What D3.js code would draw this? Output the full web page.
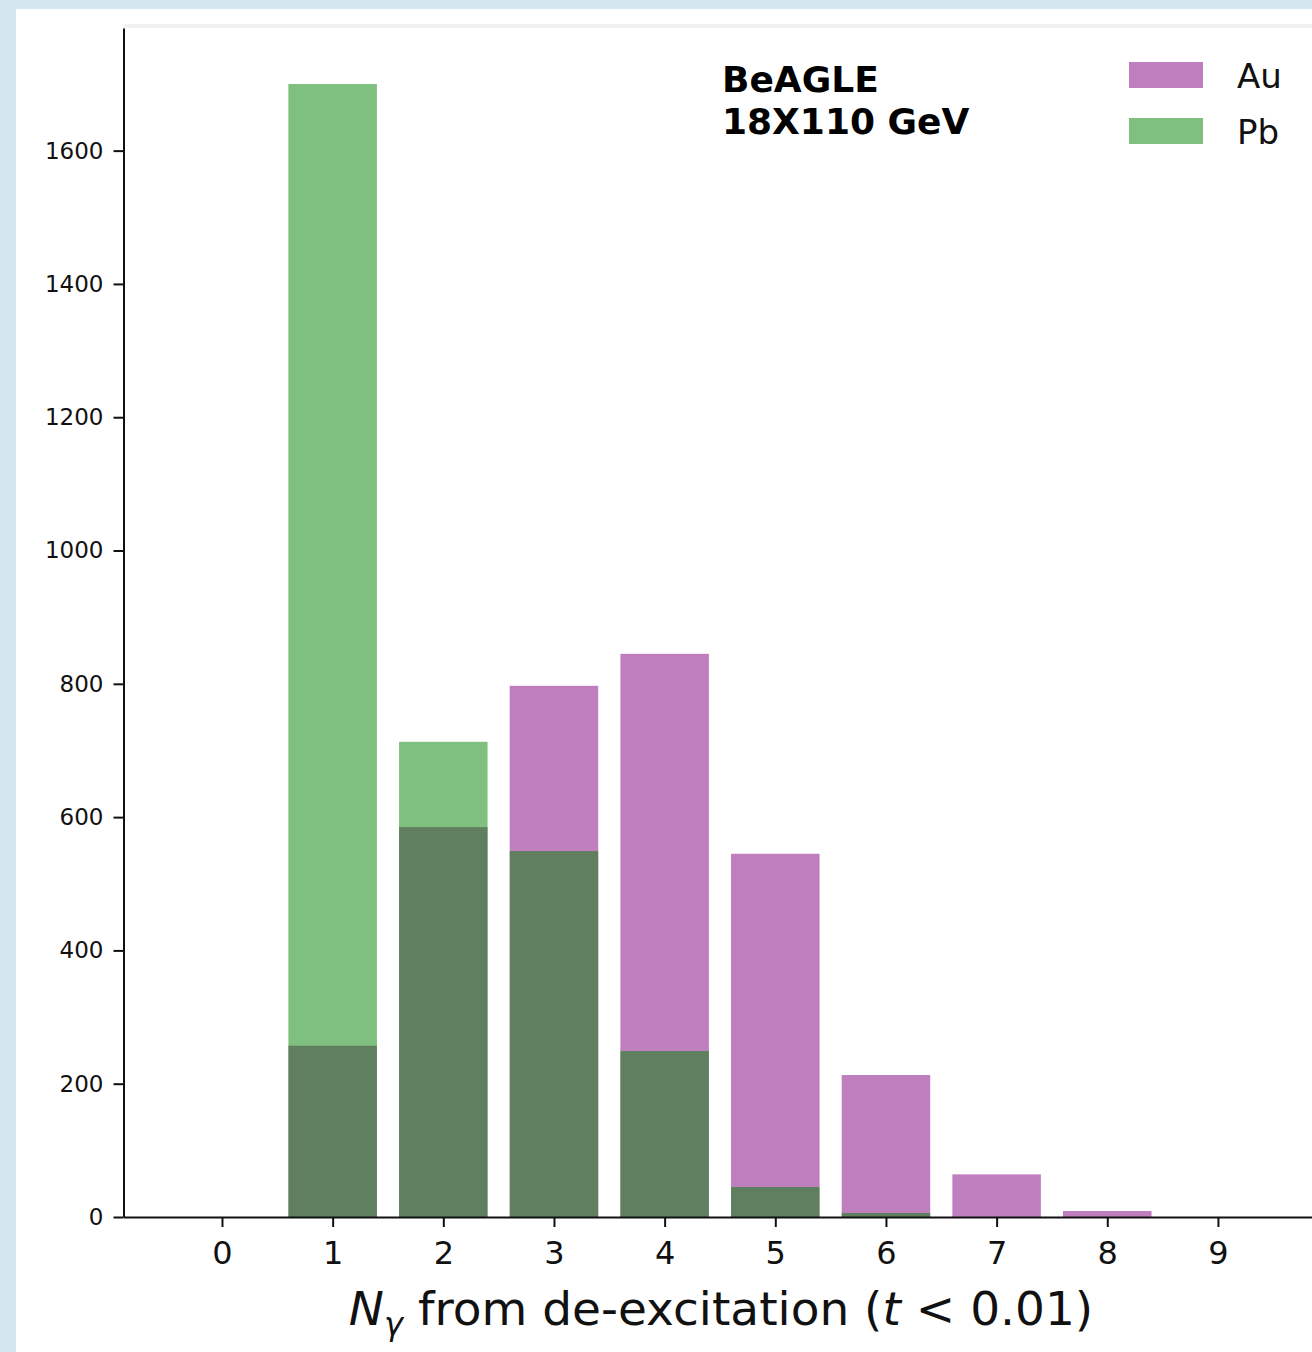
<!DOCTYPE html>
<html>
<head>
<meta charset="utf-8">
<script src="https://cdn.jsdelivr.net/npm/d3@7"></script>
<style>
  body { margin:0; background:#d5e7ee; }
  svg { display:block; }
  .axis text { font-family:"DejaVu Sans", sans-serif; fill:#111; }
  .axis path, .axis line { stroke:#111; stroke-width:2; }
</style>
</head>
<body>
<div id="chart"></div>
<script>
// bins of N_gamma
const bins = [0,1,2,3,4,5,6,7,8,9];
const auCounts = [0,257,585,797,845,545,213,64,9,0];
const pbCounts = [0,1700,713,549,249,45,6,0,0,0];
const yTicks = [0,200,400,600,800,1000,1200,1400,1600];

const W = 1312, H = 1352;
const plotL = 123.5, plotR = 1312, plotT = 28, plotB = 1217;

const svg = d3.select('#chart').append('svg')
	.attr('width', W)
	.attr('height', H);

svg.append('rect')
	.attr('x', 16).attr('y', 9)
	.attr('width', W-16).attr('height', H-9)
	.attr('fill', '#fff');

// faint top edge
svg.append('rect')
	.attr('x', plotL).attr('y', plotT-4)
	.attr('width', plotR-plotL).attr('height', 4)
	.attr('fill', '#f1f1f1');

const scaleX = d3.scaleLinear().domain([-0.89, 9.85]).range([plotL, plotR]);
const scaleY = d3.scaleLinear().domain([0, 1784]).range([plotB, plotT]);
const bw = 0.8;

const plot = svg.append('g').attr('class','plot');

function drawBars(vals, color, cls){
	plot.selectAll('.'+cls)
		.data(bins.map((b,i)=>({b:b, v:vals[i]})).filter(d=>d.v>0))
		.enter().append('rect')
		.attr('class', cls)
		.attr('x', d=>scaleX(d.b-bw/2))
		.attr('width', d=>scaleX(d.b+bw/2)-scaleX(d.b-bw/2))
		.attr('y', d=>scaleY(d.v))
		.attr('height', d=>scaleY(0)-scaleY(d.v))
		.attr('fill', color)
		.attr('fill-opacity', 0.5);
}
drawBars(auCounts, '#800080', 'au');
drawBars(pbCounts, '#008000', 'pb');

////////////////////////////////////////////////////////////////////

const axisY = d3.axisLeft(scaleY)
	.tickValues(yTicks)
	.tickFormat(d3.format('d'))
	.tickSize(10)
	.tickSizeOuter(0)
	.tickPadding(10);
svg.append('g')
	.attr('class','axis axis-y')
	.attr('transform', `translate(${plotL},0)`)
	.call(axisY)
	.selectAll('text')
	.style('font-size','23px');

const axisX = d3.axisBottom(scaleX)
	.tickValues(bins)
	.tickFormat(d3.format('d'))
	.tickSize(10)
	.tickSizeOuter(0)
	.tickPadding(14);
svg.append('g')
	.attr('class','axis axis-x')
	.attr('transform', `translate(0,${plotB})`)
	.call(axisX)
	.selectAll('text')
	.style('font-size','32px');

// x label
const xl = svg.append('text')
	.attr('x', 721).attr('y', 1325)
	.attr('text-anchor','middle')
	.style('font-family','"DejaVu Sans", sans-serif')
	.style('font-size','47px')
	.attr('fill','#111');
xl.append('tspan').attr('font-style','italic').text('N');
xl.append('tspan').attr('font-style','italic').attr('dy',10).style('font-size','32px').text('γ');
xl.append('tspan').attr('dy',-10).text(' from de-excitation (');
xl.append('tspan').attr('font-style','italic').text('t');
xl.append('tspan').text(' < 0.01)');

// annotation
const ann = svg.append('text')
	.style('font-family','"DejaVu Sans", sans-serif')
	.style('font-weight','bold')
	.style('font-size','36px')
	.attr('fill','#000');
ann.append('tspan').attr('x', 722).attr('y', 92).text('BeAGLE');
ann.append('tspan').attr('x', 722).attr('y', 134).text('18X110 GeV');

// legend
const legend = [
	{name:'Au', color:'#800080'},
	{name:'Pb', color:'#008000'}
];
const lg = svg.append('g').selectAll('g').data(legend).enter().append('g')
	.attr('transform', (d,i)=>`translate(1129,${62+i*56})`);
lg.append('rect')
	.attr('width', 74).attr('height', 26)
	.attr('fill', d=>d.color).attr('fill-opacity', 0.5);
lg.append('text')
	.attr('x', 108).attr('y', 26)
	.style('font-family','"DejaVu Sans", sans-serif')
	.style('font-size','34px')
	.attr('fill','#111')
	.text(d=>d.name);
</script>
</body>
</html>
